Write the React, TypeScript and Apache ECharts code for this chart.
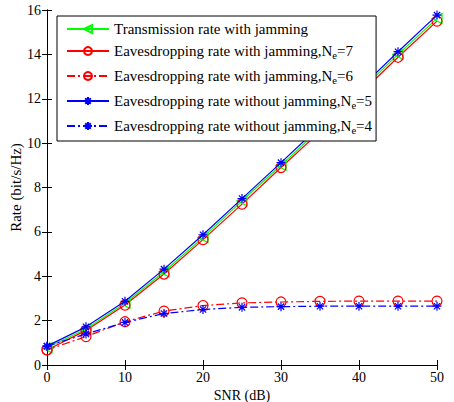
import React, { useEffect, useRef } from "react";
import * as echarts from "echarts";

const snr = [0, 5, 10, 15, 20, 25, 30, 35, 40, 45, 50];
const transJam = [0.78, 1.62, 2.78, 4.2, 5.75, 7.4, 9.0, 10.65, 12.3, 14.0, 15.62];
const eveJam7 = [0.68, 1.56, 2.7, 4.1, 5.65, 7.25, 8.9, 10.52, 12.18, 13.87, 15.5];
const eveJam6 = [0.68, 1.28, 1.95, 2.43, 2.68, 2.8, 2.84, 2.87, 2.88, 2.88, 2.88];
const eveNo5 = [0.85, 1.72, 2.87, 4.32, 5.87, 7.5, 9.12, 10.77, 12.42, 14.12, 15.77];
const eveNo4 = [0.85, 1.4, 1.92, 2.32, 2.5, 2.6, 2.63, 2.65, 2.65, 2.65, 2.65];
const seriesNames = [
  "Transmission rate with jamming",
  "Eavesdropping rate with jamming,Ne=7",
  "Eavesdropping rate with jamming,Ne=6",
  "Eavesdropping rate without jamming,Ne=5",
  "Eavesdropping rate without jamming,Ne=4",
];

const FONT = "'Liberation Serif', 'Times New Roman', serif";
const triLeft = "path://M0,5 L10,0 L10,10 Z";
const asterisk = "path://M5,0 L5,10 M0,5 L10,5 M1.5,1.5 L8.5,8.5 M1.5,8.5 L8.5,1.5";
const dashDot = [8, 3, 2, 3];

function mk(name: string, data: number[], color: string, symbol: string, dashed: boolean, z: number) {
  return {
    name,
    type: "line",
    data: snr.map((x, i) => [x, data[i]]),
    symbol,
    symbolSize: symbol === asterisk ? 9 : 10,
    showSymbol: true,
    z,
    lineStyle: { color, width: 1.2, type: dashed ? dashDot : "solid" },
    itemStyle: { color: "transparent", borderColor: color, borderWidth: 1.2 },
    emphasis: { disabled: true },
  };
}

export default function App() {
  const ref = useRef<HTMLDivElement>(null);
  useEffect(() => {
    const chart = echarts.init(ref.current!, null, { renderer: "svg" });
    const axisCommon = {
      type: "value",
      axisLine: { show: true, lineStyle: { color: "#000", width: 1 } },
      axisTick: { show: true, inside: true, length: 5, lineStyle: { color: "#000" } },
      splitLine: { show: false },
    };
    chart.setOption({
      animation: false,
      backgroundColor: "#fff",
      textStyle: { fontFamily: FONT },
      grid: { left: 47, right: 17, top: 10, bottom: 37, containLabel: false, outerBoundsMode: "none" },
      xAxis: [
        {
          ...axisCommon,
          min: 0,
          max: 50,
          interval: 10,
          position: "bottom",
          name: "SNR (dB)",
          nameLocation: "middle",
          nameGap: 20,
          nameTextStyle: { fontFamily: FONT, fontSize: 14, color: "#000" },
          axisLabel: { fontFamily: FONT, fontSize: 14, color: "#000", margin: 5 },
        },
        {
          ...axisCommon,
          min: 0,
          max: 50,
          interval: 10,
          position: "top",
          axisLabel: { show: false },
        },
      ],
      yAxis: [
        {
          ...axisCommon,
          min: 0,
          max: 16,
          interval: 2,
          position: "left",
          name: "Rate (bit/s/Hz)",
          nameLocation: "middle",
          nameGap: 24,
          nameMoveOverlap: false,
          nameTextStyle: { fontFamily: FONT, fontSize: 15, color: "#000" },
          axisLabel: { fontFamily: FONT, fontSize: 14, color: "#000", margin: 6 },
        },
        {
          ...axisCommon,
          min: 0,
          max: 16,
          interval: 2,
          position: "right",
          axisLabel: { show: false },
        },
      ],
      legend: {
        orient: "vertical",
        left: 57,
        top: 16,
        z: 10,
        padding: [4, 4, 3, 9],
        itemGap: 1,
        itemWidth: 42,
        itemHeight: 10,
        backgroundColor: "#fff",
        borderColor: "#000",
        borderWidth: 1,
        borderRadius: 0,
        selectedMode: false,
        data: seriesNames,
        formatter: (n: string) => n.replace("Ne=", "N{sub|e}="),
        textStyle: {
          fontFamily: FONT,
          fontSize: 15,
          lineHeight: 18,
          color: "#000",
          rich: {
            sub: { fontFamily: FONT, fontSize: 10.5, lineHeight: 13, color: "#000", padding: [11, 0, 2, 0] },
          },
        },
      },
      series: [
        mk(seriesNames[0], transJam, "#00ff00", triLeft, false, 2),
        mk(seriesNames[1], eveJam7, "#ff0000", "circle", false, 2),
        mk(seriesNames[2], eveJam6, "#ff0000", "circle", true, 2),
        mk(seriesNames[3], eveNo5, "#0000ff", asterisk, false, 3),
        mk(seriesNames[4], eveNo4, "#0000ff", asterisk, true, 3),
      ],
    });
    return () => chart.dispose();
  }, []);
  return <div ref={ref} style={{ width: 454, height: 402, position: "absolute", left: 0, top: 0 }} />;
}
